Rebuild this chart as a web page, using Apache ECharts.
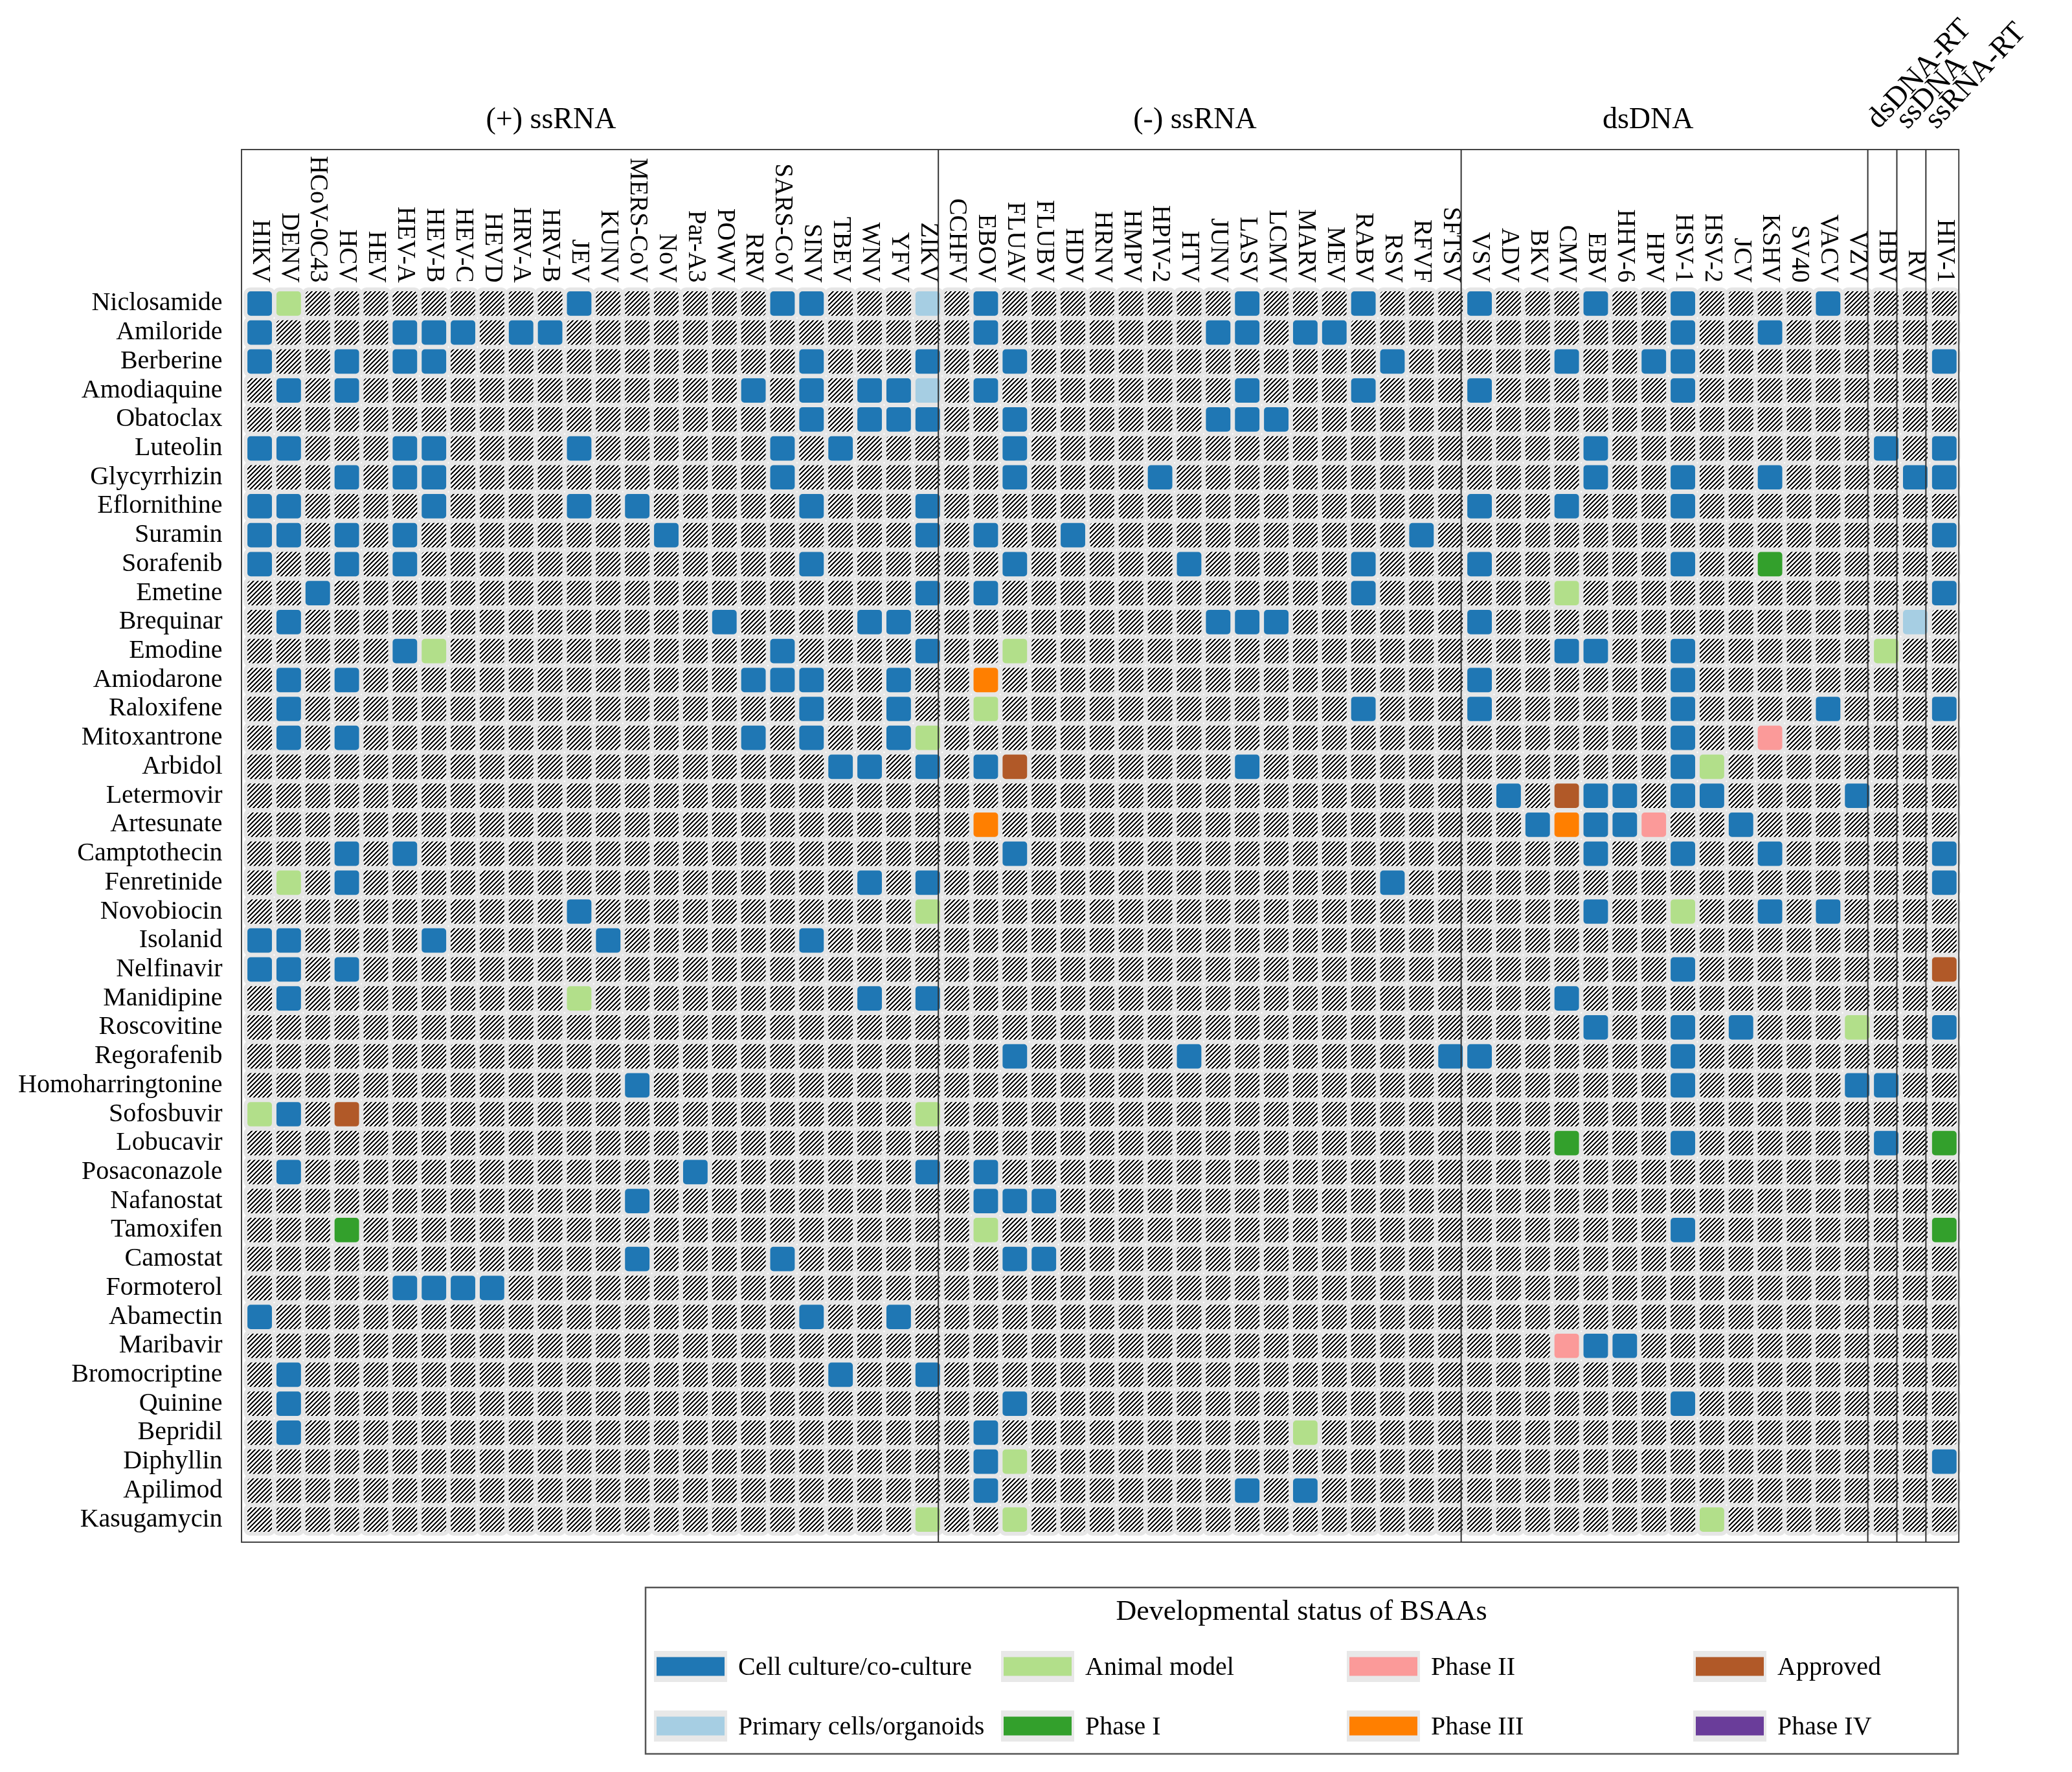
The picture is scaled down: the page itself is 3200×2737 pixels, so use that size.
<!DOCTYPE html>
<html><head><meta charset="utf-8">
<script src="https://cdn.jsdelivr.net/npm/echarts@6/dist/echarts.min.js"></script>
<style>html,body{margin:0;padding:0;background:#fff}#c{width:3200px;height:2737px}</style>
</head><body><div id="c"></div>
<script>
// ---------- data ----------
const viruses = ['HIKV','DENV','HCoV-0C43','HCV','HEV','HEV-A','HEV-B','HEV-C','HEVD','HRV-A','HRV-B','JEV','KUNV','MERS-CoV','NoV','Par-A3','POWV','RRV','SARS-CoV','SINV','TBEV','WNV','YFV','ZIKV',
  'CCHFV','EBOV','FLUAV','FLUBV','HDV','HRNV','HMPV','HPIV-2','HTV','JUNV','LASV','LCMV','MARV','MEV','RABV','RSV','RFVF','SFTSV',
  'VSV','ADV','BKV','CMV','EBV','HHV-6','HPV','HSV-1','HSV-2','JCV','KSHV','SV40','VACV','VZV',
  'HBV','RV','HIV-1'];
const groupNames = ['(+) ssRNA','(-) ssRNA','dsDNA','dsDNA-RT','ssDNA','ssRNA-RT'];
const groupSizes = [24,18,14,1,1,1];
const drugs = ['Niclosamide','Amiloride','Berberine','Amodiaquine','Obatoclax','Luteolin','Glycyrrhizin','Eflornithine','Suramin','Sorafenib','Emetine','Brequinar','Emodine','Amiodarone','Raloxifene','Mitoxantrone','Arbidol','Letermovir','Artesunate','Camptothecin','Fenretinide','Novobiocin','Isolanid','Nelfinavir','Manidipine','Roscovitine','Regorafenib','Homoharringtonine','Sofosbuvir','Lobucavir','Posaconazole','Nafanostat','Tamoxifen','Camostat','Formoterol','Abamectin','Maribavir','Bromocriptine','Quinine','Bepridil','Diphyllin','Apilimod','Kasugamycin'];
const statusNames = ['Cell culture/co-culture','Primary cells/organoids','Animal model','Phase I','Phase II','Phase III','Approved','Phase IV'];
const statusColors = ['#1f77b4','#a6cee3','#b2df8a','#33a02c','#fb9a99','#ff7f00','#b15928','#6a3d9a'];

const cellCulture = [
  ['Niclosamide',['HIKV','JEV','SARS-CoV','SINV','EBOV','LASV','RABV','VSV','EBV','HSV-1','VACV']],
  ['Amiloride',['HIKV','HEV-A','HEV-B','HEV-C','HRV-A','HRV-B','EBOV','JUNV','LASV','MARV','MEV','HSV-1','KSHV']],
  ['Berberine',['HIKV','HCV','HEV-A','HEV-B','SINV','ZIKV','FLUAV','RSV','CMV','HPV','HSV-1','HIV-1']],
  ['Amodiaquine',['DENV','HCV','RRV','SINV','WNV','YFV','EBOV','LASV','RABV','VSV','HSV-1']],
  ['Obatoclax',['SINV','WNV','YFV','ZIKV','FLUAV','JUNV','LASV','LCMV']],
  ['Luteolin',['HIKV','DENV','HEV-A','HEV-B','JEV','SARS-CoV','TBEV','FLUAV','EBV','HBV','HIV-1']],
  ['Glycyrrhizin',['HCV','HEV-A','HEV-B','SARS-CoV','FLUAV','HPIV-2','EBV','HSV-1','KSHV','RV','HIV-1']],
  ['Eflornithine',['HIKV','DENV','HEV-B','JEV','MERS-CoV','SINV','ZIKV','VSV','CMV','HSV-1']],
  ['Suramin',['HIKV','DENV','HCV','HEV-A','NoV','ZIKV','EBOV','HDV','RFVF','HIV-1']],
  ['Sorafenib',['HIKV','HCV','HEV-A','SINV','FLUAV','HTV','RABV','VSV','HSV-1']],
  ['Emetine',['HCoV-0C43','ZIKV','EBOV','RABV','HIV-1']],
  ['Brequinar',['DENV','POWV','WNV','YFV','JUNV','LASV','LCMV','VSV']],
  ['Emodine',['HEV-A','SARS-CoV','ZIKV','CMV','EBV','HSV-1']],
  ['Amiodarone',['DENV','HCV','RRV','SARS-CoV','SINV','YFV','VSV','HSV-1']],
  ['Raloxifene',['DENV','SINV','YFV','RABV','VSV','HSV-1','VACV','HIV-1']],
  ['Mitoxantrone',['DENV','HCV','RRV','SINV','YFV','HSV-1']],
  ['Arbidol',['TBEV','WNV','ZIKV','EBOV','LASV','HSV-1']],
  ['Letermovir',['ADV','EBV','HHV-6','HSV-1','HSV-2','VZV']],
  ['Artesunate',['BKV','EBV','HHV-6','JCV']],
  ['Camptothecin',['HCV','HEV-A','FLUAV','EBV','HSV-1','KSHV','HIV-1']],
  ['Fenretinide',['HCV','WNV','ZIKV','RSV','HIV-1']],
  ['Novobiocin',['JEV','EBV','KSHV','VACV']],
  ['Isolanid',['HIKV','DENV','HEV-B','KUNV','SINV']],
  ['Nelfinavir',['HIKV','DENV','HCV','HSV-1']],
  ['Manidipine',['DENV','WNV','ZIKV','CMV']],
  ['Roscovitine',['EBV','HSV-1','JCV','HIV-1']],
  ['Regorafenib',['FLUAV','HTV','SFTSV','VSV','HSV-1']],
  ['Homoharringtonine',['MERS-CoV','HSV-1','VZV','HBV']],
  ['Sofosbuvir',['DENV']],
  ['Lobucavir',['HSV-1','HBV']],
  ['Posaconazole',['DENV','Par-A3','ZIKV','EBOV']],
  ['Nafanostat',['MERS-CoV','EBOV','FLUAV','FLUBV']],
  ['Tamoxifen',['HSV-1']],
  ['Camostat',['MERS-CoV','SARS-CoV','FLUAV','FLUBV']],
  ['Formoterol',['HEV-A','HEV-B','HEV-C','HEVD']],
  ['Abamectin',['HIKV','SINV','YFV']],
  ['Maribavir',['EBV','HHV-6']],
  ['Bromocriptine',['DENV','TBEV','ZIKV']],
  ['Quinine',['DENV','FLUAV','HSV-1']],
  ['Bepridil',['DENV','EBOV']],
  ['Diphyllin',['EBOV','HIV-1']],
  ['Apilimod',['EBOV','LASV','MARV']]
];
const primaryCells = [['Niclosamide',['ZIKV']],['Amodiaquine',['ZIKV']],['Brequinar',['RV']]];
const animalModel = [
  ['Niclosamide',['DENV']],['Emetine',['CMV']],['Emodine',['HEV-B','FLUAV','HBV']],['Raloxifene',['EBOV']],
  ['Mitoxantrone',['ZIKV']],['Arbidol',['HSV-2']],['Fenretinide',['DENV']],['Novobiocin',['ZIKV','HSV-1']],
  ['Manidipine',['JEV']],['Roscovitine',['VZV']],['Sofosbuvir',['HIKV','ZIKV']],['Tamoxifen',['EBOV']],
  ['Bepridil',['MARV']],['Diphyllin',['FLUAV']],['Kasugamycin',['ZIKV','FLUAV','HSV-2']]
];
const phase1 = [['Sorafenib',['KSHV']],['Lobucavir',['CMV','HIV-1']],['Tamoxifen',['HCV','HIV-1']]];
const phase2 = [['Mitoxantrone',['KSHV']],['Artesunate',['HPV']],['Maribavir',['CMV']]];
const phase3 = [['Amiodarone',['EBOV']],['Artesunate',['EBOV','CMV']]];
const approved = [['Arbidol',['FLUAV']],['Letermovir',['CMV']],['Nelfinavir',['HIV-1']],['Sofosbuvir',['HCV']]];
const phase4 = [];

// ---------- layout constants ----------
const GL = 378.6, GT = 446.6, GW = 2646.6, GH = 1922.8;
const FONT = 'Liberation Serif';
const titleCol = [10.03, 32.2, 47.8];

// ---------- build matrix ----------
const statusLists = [cellCulture, primaryCells, animalModel, phase1, phase2, phase3, approved, phase4];
const matrix = drugs.map(() => viruses.map(() => -1));
statusLists.forEach((list, k) => list.forEach(([d, vs]) => {
  const di = drugs.indexOf(d);
  vs.forEach(v => { const vi = viruses.indexOf(v); if (di >= 0 && vi >= 0) matrix[di][vi] = k; });
}));
const cells = [];
matrix.forEach((row, di) => row.forEach((s, vi) => cells.push([vi, di, s])));

// crisp hatch pattern "/" : 7px period, 3px black run per row
const pc = document.createElement('canvas');
const T = 7; pc.width = T; pc.height = T;
const g = pc.getContext('2d');
g.fillStyle = '#ffffff'; g.fillRect(0, 0, T, T);
g.fillStyle = '#000000';
for (let y = 0; y < T; y++) {
  for (let k = 0; k < 3; k++) {
    const x = ((T - 1 - y + k) % T + T) % T;
    g.fillRect(x, y, 1, 1);
  }
}
const hatch = { image: pc, repeat: 'repeat' };

const chart = echarts.init(document.getElementById('c'), null, { renderer: 'canvas' });

const colW = GW / viruses.length;
const colCenter = i => GL + (i + 0.5) * colW;
const boxL = GL - 5.6, boxT = 231, boxR = GL + GW, boxB = GT + GH + 12.6;

const graphics = [];
graphics.push({ type: 'rect', z: 100, silent: true, shape: { x: boxL, y: boxT, width: boxR - boxL, height: boxB - boxT },
  style: { fill: 'none', stroke: '#444', lineWidth: 2 } });
let cum = 0;
groupSizes.forEach((n, gi) => {
  const start = cum; cum += n;
  if (gi < groupSizes.length - 1) {
    const x = GL + cum * colW - 6;
    graphics.push({ type: 'line', z: 100, silent: true, shape: { x1: x, y1: boxT, x2: x, y2: boxB }, style: { stroke: '#333', lineWidth: 2 } });
  }
  if (gi < 3) {
    graphics.push({ type: 'text', z: 100, silent: true, x: colCenter(titleCol[gi]), y: 186,
      style: { text: groupNames[gi], font: '46px "' + FONT + '"', fill: '#000', textAlign: 'center', textVerticalAlign: 'middle' } });
  } else {
    graphics.push({ type: 'text', z: 100, silent: true, x: colCenter(start) - 4, y: 208, rotation: 47 * Math.PI / 180,
      style: { text: groupNames[gi], font: '46px "' + FONT + '"', fill: '#000', textAlign: 'left', textVerticalAlign: 'bottom' } });
  }
});

// legend
const LX = 997, LY = 2452, LW = 2027, LH = 257;
graphics.push({ type: 'rect', z: 100, silent: true, shape: { x: LX, y: LY, width: LW, height: LH }, style: { fill: 'none', stroke: '#555', lineWidth: 2.5 } });
graphics.push({ type: 'text', z: 100, silent: true, x: 2010, y: 2490,
  style: { text: 'Developmental status of BSAAs', font: '44px "' + FONT + '"', fill: '#000', textAlign: 'center', textVerticalAlign: 'middle' } });
const legCols = [1014, 1550, 2084, 2619], legRows = [2574, 2666];
statusNames.forEach((name, i) => {
  const cx = legCols[Math.floor(i / 2)], cy = legRows[i % 2];
  graphics.push({ type: 'rect', z: 100, silent: true, shape: { x: cx - 4, y: cy - 24, width: 113, height: 48 }, style: { fill: '#e8e8e8' } });
  graphics.push({ type: 'rect', z: 101, silent: true, shape: { x: cx, y: cy - 14.5, width: 105, height: 29 }, style: { fill: statusColors[i] } });
  graphics.push({ type: 'text', z: 101, silent: true, x: cx + 126, y: cy + 2,
    style: { text: name, font: '40px "' + FONT + '"', fill: '#000', textAlign: 'left', textVerticalAlign: 'middle' } });
});

chart.setOption({
  backgroundColor: '#ffffff',
  animation: false,
  grid: { left: GL, top: GT, width: GW, height: GH, containLabel: false },
  xAxis: {
    type: 'category', position: 'top', data: viruses,
    axisLine: { show: false }, axisTick: { show: false }, splitLine: { show: false },
    axisLabel: { interval: 0, rotate: 90, margin: 10, fontSize: 39, fontFamily: FONT, color: '#000' }
  },
  yAxis: {
    type: 'category', data: drugs, inverse: true,
    axisLine: { show: false }, axisTick: { show: false }, splitLine: { show: false },
    axisLabel: { interval: 0, margin: 35, fontSize: 40, fontFamily: FONT, color: '#000' }
  },
  series: [{
    type: 'custom', silent: true, data: cells,
    encode: { x: 0, y: 1 },
    renderItem: function (params, api) {
      const x = api.value(0), y = api.value(1), s = api.value(2);
      const c = api.coord([x, y]);
      const sz = api.size([1, 1]);
      const w = sz[0] - 1, h = sz[1] - 1;
      return {
        type: 'rect',
        shape: { x: c[0] - w / 2, y: c[1] - h / 2, width: w, height: h, r: 8 },
        style: { fill: s < 0 ? hatch : statusColors[s], stroke: '#e6e6e6', lineWidth: 6 }
      };
    }
  }],
  graphic: graphics
});
</script>
</body></html>
